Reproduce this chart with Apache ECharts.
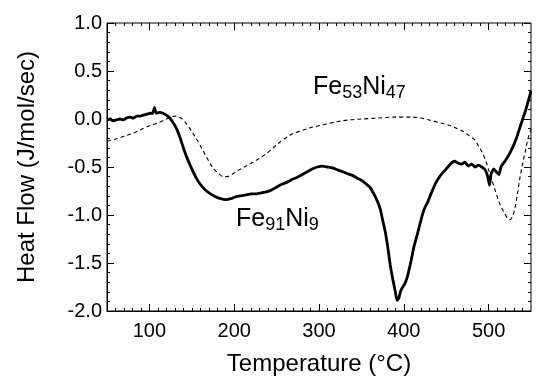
<!DOCTYPE html>
<html>
<head>
<meta charset="utf-8">
<script src="https://cdn.jsdelivr.net/npm/echarts@6/dist/echarts.min.js"></script>
<style>
  html, body { margin: 0; padding: 0; background: #fff; }
  #chart { width: 536px; height: 377px; }
</style>
</head>
<body>
<div id="chart"></div>
<script>
// DSC traces: heat flow vs temperature for two Fe-Ni compositions
const tempFe91 = [50, 54, 57, 61, 65, 69, 73, 77, 81, 85, 89, 93, 97, 101, 104, 106, 108, 112, 116, 120,
  124, 128, 132, 136, 140, 145, 150, 155, 160, 166, 172, 178, 184, 190, 196, 202, 208, 214, 220, 226,
  232, 238, 244, 250, 256, 262, 268, 274, 280, 286, 292, 298, 304, 310, 316, 322, 328, 334, 340, 346,
  352, 356, 360, 364, 368, 372, 375, 378, 381, 384, 387, 390, 392, 394, 396, 398, 401, 404, 408, 412,
  416, 420, 424, 428, 432, 438, 444, 450, 456, 460, 464, 468, 472, 476, 480, 484, 488, 492, 496, 499,
  501, 503, 506, 509, 512, 515, 520, 526, 532, 538, 544, 550];
const flowFe91 = [-0.01, 0.00, -0.02, -0.01, 0.00, -0.01, 0.01, 0.02, 0.01, 0.03, 0.03, 0.04, 0.05, 0.06, 0.06, 0.12, 0.06, 0.07, 0.06, 0.04,
  0.01, -0.04, -0.10, -0.19, -0.30, -0.42, -0.52, -0.61, -0.68, -0.74, -0.78, -0.81, -0.83, -0.84, -0.83, -0.81, -0.80, -0.79, -0.78, -0.78,
  -0.77, -0.76, -0.74, -0.71, -0.68, -0.66, -0.63, -0.61, -0.58, -0.55, -0.52, -0.50, -0.49, -0.50, -0.51, -0.53, -0.55, -0.57, -0.59, -0.62,
  -0.65, -0.68, -0.71, -0.77, -0.84, -0.93, -1.05, -1.17, -1.33, -1.52, -1.67, -1.80, -1.89, -1.87, -1.80, -1.76, -1.72, -1.65, -1.50, -1.33,
  -1.20, -1.06, -0.94, -0.87, -0.78, -0.66, -0.58, -0.52, -0.46, -0.44, -0.46, -0.47, -0.45, -0.49, -0.47, -0.50, -0.48, -0.50, -0.53, -0.60,
  -0.69, -0.57, -0.52, -0.55, -0.58, -0.49, -0.43, -0.34, -0.22, -0.06, 0.10, 0.29];

const tempFe53 = [50, 60, 70, 80, 90, 100, 110, 118, 125, 131, 137, 142, 147, 152, 157, 162, 167, 172, 177, 182,
  187, 192, 197, 204, 212, 220, 228, 238, 246, 254, 262, 270, 280, 290, 300, 310, 320, 335, 350, 370,
  390, 410, 420, 430, 443, 455, 463, 470, 478, 484, 488, 492, 496, 500, 504, 508, 513, 518, 522, 525,
  528, 531, 534, 537, 540, 543, 546, 550];
const flowFe53 = [-0.23, -0.21, -0.18, -0.15, -0.11, -0.07, -0.04, -0.01, 0.02, 0.03, 0.01, -0.03, -0.09, -0.16, -0.23, -0.31, -0.39, -0.47, -0.53, -0.57,
  -0.60, -0.60, -0.58, -0.54, -0.50, -0.46, -0.42, -0.36, -0.30, -0.24, -0.19, -0.15, -0.12, -0.09, -0.07, -0.05, -0.03, -0.01, 0.00, 0.01,
  0.02, 0.02, 0.01, -0.01, -0.04, -0.07, -0.10, -0.13, -0.18, -0.22, -0.28, -0.34, -0.42, -0.53, -0.64, -0.75, -0.88, -0.97, -1.03, -1.05,
  -1.02, -0.93, -0.78, -0.61, -0.47, -0.35, -0.22, -0.10];

const seriesNames = ['Fe91Ni9', 'Fe53Ni47'];

// tick positions
const xMajorTicks = [100, 200, 300, 400, 500];
const xMinorTicks = [];
for (let t = 60; t < 550; t += 10) { if (t % 100 !== 0) xMinorTicks.push(t); }
const yMajorTicks = [-2.0, -1.5, -1.0, -0.5, 0.0, 0.5, 1.0];
const yMinorTicks = [];
for (let k = -19; k < 10; k++) { if (k % 5 !== 0) yMinorTicks.push(k / 10); }

const FONT = '"Liberation Sans", Arial, Helvetica, sans-serif';
const MAJOR = 7, MINOR = 3;
const RECT = { left: 107, right: 5, top: 23, bottom: 66, containLabel: false, outerBoundsMode: 'none' };

function pairs(xs, ys) { return xs.map((x, i) => [x, ys[i]]); }

// Inward ticks: every tick set sits in an overlay grid of the same rect,
// on an axis shifted inward by the tick length with outward ticks.
function tickAxis(kind, gridIndex, position, offset, ticks) {
  const a = {
    type: 'value', gridIndex: gridIndex, position: position, offset: offset,
    axisLine: { show: false, onZero: false },
    axisTick: { show: true, inside: false, length: Math.abs(offset), customValues: ticks, lineStyle: { color: '#000', width: 1 } },
    axisLabel: { show: false },
    splitLine: { show: false }
  };
  if (kind === 'x') { a.min = 50; a.max = 550; } else { a.min = -2; a.max = 1; a.interval = 0.5; }
  return a;
}

const overlays = [
  { x: ['bottom', -MAJOR, xMajorTicks], y: ['left', -MAJOR, yMajorTicks] },
  { x: ['bottom', -MINOR, xMinorTicks], y: ['left', -MINOR, yMinorTicks] },
  { x: ['top', -MAJOR, xMajorTicks], y: ['right', -MAJOR, yMajorTicks] },
  { x: ['top', -MINOR, xMinorTicks], y: ['right', -MINOR, yMinorTicks] }
];

const grids = [Object.assign({ show: true, borderColor: '#000', borderWidth: 1, backgroundColor: 'transparent' }, RECT)];
const xAxes = [{
  type: 'value', gridIndex: 0, min: 50, max: 550, position: 'bottom',
  name: 'Temperature (°C)', nameLocation: 'middle', nameGap: 41,
  nameTextStyle: { fontFamily: FONT, fontSize: 24, color: '#000' },
  axisLine: { show: true, onZero: false, lineStyle: { color: '#000', width: 1 } },
  axisTick: { show: false },
  axisLabel: { show: true, margin: 10, customValues: xMajorTicks, fontFamily: FONT, fontSize: 20, color: '#000' },
  splitLine: { show: false }
}];
const yAxes = [{
  type: 'value', gridIndex: 0, min: -2, max: 1, interval: 0.5, position: 'left',
  name: 'Heat Flow (J/mol/sec)', nameLocation: 'middle', nameGap: 68,
  nameTextStyle: { fontFamily: FONT, fontSize: 24, color: '#000' },
  axisLine: { show: true, onZero: false, lineStyle: { color: '#000', width: 1 } },
  axisTick: { show: false },
  axisLabel: { show: true, margin: 5, fontFamily: FONT, fontSize: 20, color: '#000', formatter: v => v.toFixed(1) },
  splitLine: { show: false }
}];
const tickSeries = [];
overlays.forEach((o, i) => {
  const g = i + 1;
  grids.push(Object.assign({}, RECT));
  xAxes.push(tickAxis('x', g, o.x[0], o.x[1], o.x[2]));
  yAxes.push(tickAxis('y', g, o.y[0], o.y[1], o.y[2]));
  tickSeries.push({ type: 'line', xAxisIndex: g, yAxisIndex: g, data: [], silent: true, showSymbol: false });
});

const chart = echarts.init(document.getElementById('chart'), null, { renderer: 'canvas' });

chart.setOption({
  backgroundColor: '#fff',
  animation: false,
  grid: grids,
  xAxis: xAxes,
  yAxis: yAxes,
  series: [
    {
      name: seriesNames[0], type: 'line', xAxisIndex: 0, yAxisIndex: 0,
      data: pairs(tempFe91, flowFe91), showSymbol: false, smooth: 0.15,
      lineStyle: { color: '#000', width: 2.8 }, z: 3
    },
    {
      name: seriesNames[1], type: 'line', xAxisIndex: 0, yAxisIndex: 0,
      data: pairs(tempFe53, flowFe53), showSymbol: false, smooth: 0.3,
      lineStyle: { color: '#000', width: 1.1, type: [4, 3] }, z: 2
    }
  ].concat(tickSeries),
  graphic: [
    {
      type: 'text', left: 313, top: 75,
      style: {
        text: '{m|Fe}{s|53}{m|Ni}{s|47}',
        rich: {
          m: { fontFamily: FONT, fontSize: 25, lineHeight: 30, fill: '#000' },
          s: { fontFamily: FONT, fontSize: 18, lineHeight: 15, verticalAlign: 'bottom', fill: '#000' }
        }
      }
    },
    {
      type: 'text', left: 236, top: 207,
      style: {
        text: '{m|Fe}{s|91}{m|Ni}{s|9}',
        rich: {
          m: { fontFamily: FONT, fontSize: 25, lineHeight: 30, fill: '#000' },
          s: { fontFamily: FONT, fontSize: 18, lineHeight: 15, verticalAlign: 'bottom', fill: '#000' }
        }
      }
    }
  ]
});
</script>
</body>
</html>
